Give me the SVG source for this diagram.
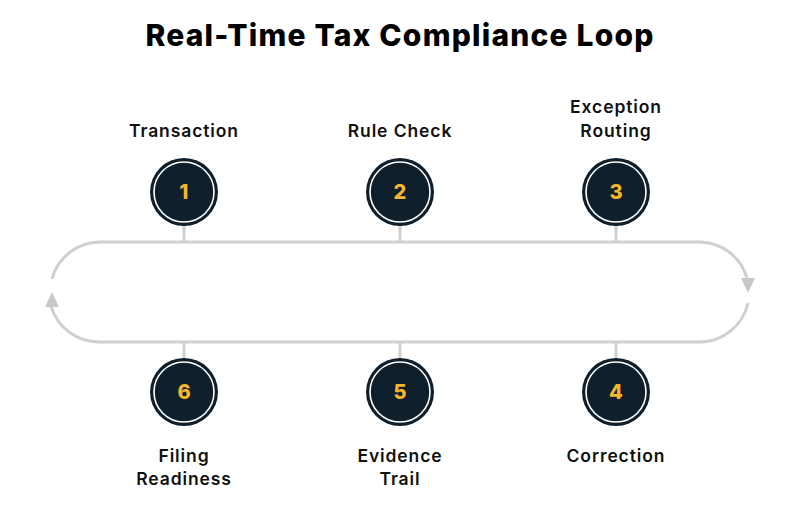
<svg xmlns="http://www.w3.org/2000/svg" width="800" height="516" viewBox="0 0 800 516">
<style>
.title{font-family:Inter,"Noto Sans","Liberation Sans",sans-serif;font-weight:800;font-size:30px;letter-spacing:1.2px;fill:#000;text-anchor:middle}
.lbl{font-family:Inter,"Noto Sans","Liberation Sans",sans-serif;font-weight:600;font-size:17.5px;letter-spacing:0.9px;fill:#111;text-anchor:middle}
.num{font-family:Inter,"Noto Sans","Liberation Sans",sans-serif;font-weight:800;font-size:20px;fill:#f4b62c;text-anchor:middle}
.outer{fill:#0f1f2c}
.ring{fill:none;stroke:#fff;stroke-width:1.6}
.loop{fill:none;stroke:#d0d0d0;stroke-width:3}
.arrow{fill:#c8c8c8}
</style>
<rect width="800" height="516" fill="#fff"/>
<text class="title" x="400" y="46">Real-Time Tax Compliance Loop</text>
<g id="connectors">
<path class="loop" d="M52,279 A50,50 0 0 1 100,242 L700,242 A50,50 0 0 1 747,278"/>
<path class="loop" d="M748,303 A50,50 0 0 1 700,342 L100,342 A50,50 0 0 1 51,306"/>
<polygon class="arrow" points="748,293 741,278 755,278"/>
<polygon class="arrow" points="52,292 45,307 59,307"/>
<line class="loop" x1="184" y1="225" x2="184" y2="242"/>
<line class="loop" x1="400" y1="225" x2="400" y2="242"/>
<line class="loop" x1="616" y1="225" x2="616" y2="242"/>
<line class="loop" x1="184" y1="342" x2="184" y2="358"/>
<line class="loop" x1="400" y1="342" x2="400" y2="358"/>
<line class="loop" x1="616" y1="342" x2="616" y2="358"/>
</g>
<g id="node1">
<circle class="outer" cx="184" cy="192" r="34"/><circle class="ring" cx="184" cy="192" r="30"/>
<text class="num" x="184" y="199">1</text>
<text class="lbl" x="184" y="137">Transaction</text>
</g>
<g id="node2">
<circle class="outer" cx="400" cy="192" r="34"/><circle class="ring" cx="400" cy="192" r="30"/>
<text class="num" x="400" y="199">2</text>
<text class="lbl" x="400" y="137">Rule Check</text>
</g>
<g id="node3">
<circle class="outer" cx="616" cy="192" r="34"/><circle class="ring" cx="616" cy="192" r="30"/>
<text class="num" x="616" y="199">3</text>
<text class="lbl" x="616" y="113">Exception</text>
<text class="lbl" x="616" y="137">Routing</text>
</g>
<g id="node4">
<circle class="outer" cx="616" cy="392" r="34"/><circle class="ring" cx="616" cy="392" r="30"/>
<text class="num" x="616" y="399">4</text>
<text class="lbl" x="616" y="462">Correction</text>
</g>
<g id="node5">
<circle class="outer" cx="400" cy="392" r="34"/><circle class="ring" cx="400" cy="392" r="30"/>
<text class="num" x="400" y="399">5</text>
<text class="lbl" x="400" y="462">Evidence</text>
<text class="lbl" x="400" y="485">Trail</text>
</g>
<g id="node6">
<circle class="outer" cx="184" cy="392" r="34"/><circle class="ring" cx="184" cy="392" r="30"/>
<text class="num" x="184" y="399">6</text>
<text class="lbl" x="184" y="462">Filing</text>
<text class="lbl" x="184" y="485">Readiness</text>
</g>
</svg>
